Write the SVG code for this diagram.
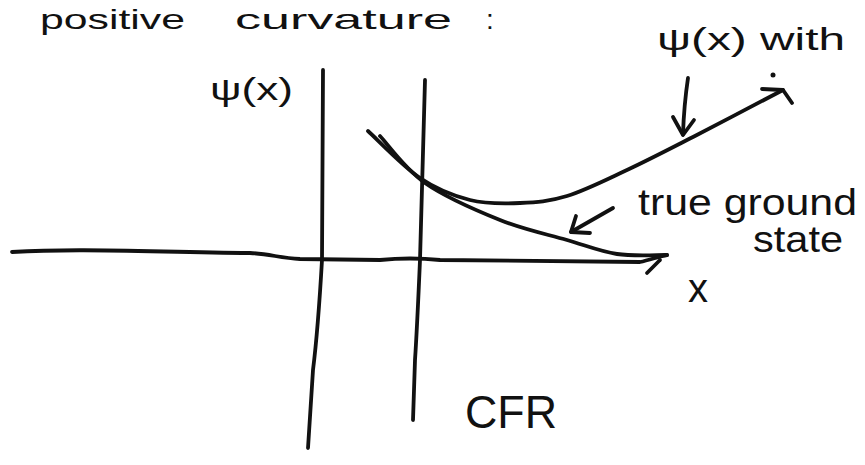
<svg xmlns="http://www.w3.org/2000/svg" width="865" height="465" viewBox="0 0 865 465">
<style>
.ink{fill:none;stroke:#111;stroke-width:3.8;stroke-linecap:round;stroke-linejoin:round}
.t{font-family:"Liberation Sans","DejaVu Sans",sans-serif;fill:#111}
</style>
<rect width="865" height="465" fill="#fff"/>
<g id="title">
<text class="t" font-size="28" y="29"><tspan x="40" textLength="145" lengthAdjust="spacingAndGlyphs">positive</tspan><tspan x="235" textLength="217" lengthAdjust="spacingAndGlyphs">curvature</tspan><tspan x="486">:</tspan></text>
</g>
<g id="axes">
<path class="ink" d="M12,252 C80,248 150,252 250,253 C270,254 280,258 300,259 L380,260 C400,258 420,258 440,260 L640,262 C650,260 660,256 667,255"/>
<path class="ink" d="M647,273 L660,260"/>
<path class="ink" d="M323,70 L322,260 Q318,330 313,370 L308,448"/>
<path class="ink" d="M425,80 L420,260 Q417,330 415,360 L413,420"/>
</g>
<g id="labels">
<text class="t" font-size="32" x="210" y="100" textLength="83" lengthAdjust="spacingAndGlyphs">ψ(x)</text>
<text class="t" font-size="40" x="688" y="302">x</text>
<text class="t" font-size="47" x="465" y="428" textLength="92" lengthAdjust="spacingAndGlyphs">CFR</text>
</g>
<g id="curve-trial">
<path class="ink" d="M368,131 C376.7,138.8 403,166.5 420,178 C437,189.5 453.3,195.8 470,200 C486.7,204.2 503.8,203.7 520,203 C536.2,202.3 549.2,201.5 567,196 C584.8,190.5 606,179.8 627,170 C648,160.2 667,150.3 693,137 C719,123.7 768,97.8 783,90"/>
<path class="ink" d="M762,89 L783,90 L792,103"/>
<circle cx="773" cy="75" r="2.5" fill="#111"/>
</g>
<g id="curve-ground">
<path class="ink" d="M380,136 C387.5,143.8 405,169 425,183 C445,197 476.3,210.5 500,220 C523.7,229.5 547.5,234.3 567,240 C586.5,245.7 600.3,251.5 617,254 C633.7,256.5 658.7,254.8 667,255"/>
</g>
<g id="label-trial">
<text class="t" font-size="32" x="657" y="50" textLength="188" lengthAdjust="spacingAndGlyphs">ψ(x) with</text>
</g>
<g id="label-ground">
<text class="t" font-size="36" x="638" y="215" textLength="219" lengthAdjust="spacingAndGlyphs">true ground</text>
<text class="t" font-size="36" x="753" y="252" textLength="90" lengthAdjust="spacingAndGlyphs">state</text>
</g>
<g id="connectors">
<path class="ink" d="M688,78 Q684,105 683,134"/>
<path class="ink" d="M673,117 L683,135 L694,120"/>
<path class="ink" d="M613,208 L571,232"/>
<path class="ink" d="M576,216 L571,232 L590,233"/>
</g>
</svg>
